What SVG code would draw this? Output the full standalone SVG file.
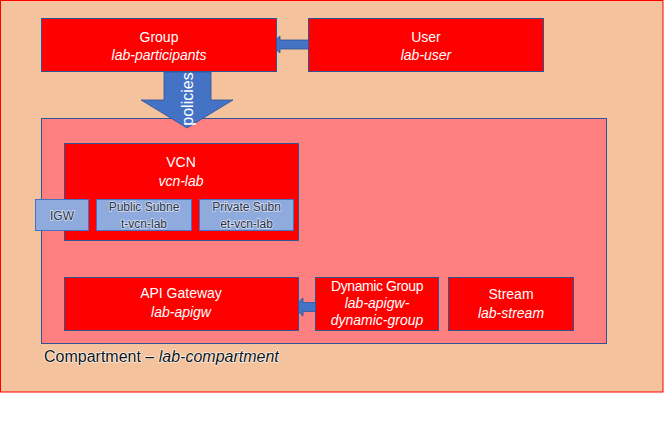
<svg xmlns="http://www.w3.org/2000/svg" width="664" height="426" viewBox="0 0 664 426">
<style>
.box{fill:#FF0000;stroke:#2F5597;stroke-width:1}
.sub{fill:#8FAADC;stroke:#4472C4;stroke-width:1}
.t{font-family:"Liberation Sans",Arial,sans-serif;font-size:14px;fill:#FFFFFF;text-anchor:middle}
.i{font-style:italic}
.s{font-family:"Liberation Sans",Arial,sans-serif;font-size:12px;fill:#26324A;text-anchor:middle;stroke:#D6DEF0;stroke-width:1.6;paint-order:stroke}
.arrow{fill:#4472C4;stroke:#2F5597;stroke-width:0.8}
</style>
<rect width="664" height="426" fill="#FFFFFF"/>
<rect x="0.5" y="0.5" width="662.5" height="391.5" fill="#F4C39E" stroke="#FF0000" stroke-width="1"/>
<g id="compartment">
<rect x="41.5" y="118.5" width="565" height="225" fill="#FF8080" stroke="#2F5597" stroke-width="1"/>
<text x="44" y="362" font-family="Liberation Sans,Arial,sans-serif" font-size="16" fill="#111111" stroke="#FFFFFF" stroke-width="1.2" paint-order="stroke">Compartment – <tspan font-style="italic">lab-compartment</tspan></text>
</g>
<g id="connectors">
<polygon class="arrow" points="164,72 211,72 211,100 233,100 187,128 141,100 164,100"/>
<text transform="translate(193,99) rotate(-90)" font-family="Liberation Sans,Arial,sans-serif" font-size="16" fill="#FFFFFF" text-anchor="middle">policies</text>
<polygon class="arrow" points="318,40 280,40 280,36 270,44.5 280,53 280,49 318,49"/>
<polygon class="arrow" points="321,302.5 303,302.5 303,298 293,307 303,316 303,311.5 321,311.5"/>
</g>
<g id="group">
<rect class="box" x="41.5" y="18.5" width="235" height="53"/>
<text class="t" x="159" y="42">Group</text>
<text class="t i" x="159" y="60">lab-participants</text>
</g>
<g id="user">
<rect class="box" x="308.5" y="18.5" width="235" height="53"/>
<text class="t" x="426" y="42">User</text>
<text class="t i" x="426" y="60">lab-user</text>
</g>
<g id="vcn">
<rect class="box" x="64.5" y="143.5" width="234" height="97"/>
<text class="t" x="181" y="167">VCN</text>
<text class="t i" x="181" y="186">vcn-lab</text>
</g>
<g id="igw">
<rect class="sub" x="35.5" y="199.5" width="53" height="31"/>
<text class="s" x="62" y="219.5">IGW</text>
</g>
<g id="public-subnet">
<rect class="sub" x="96.5" y="199.5" width="95" height="31"/>
<text class="s" x="144" y="211">Public Subne</text>
<text class="s" x="144" y="228">t-vcn-lab</text>
</g>
<g id="private-subnet">
<rect class="sub" x="199.5" y="199.5" width="94" height="31"/>
<text class="s" x="246.5" y="211">Private Subn</text>
<text class="s" x="246.5" y="228">et-vcn-lab</text>
</g>
<g id="api-gateway">
<rect class="box" x="64.5" y="277.5" width="234" height="53"/>
<text class="t" x="181" y="298">API Gateway</text>
<text class="t i" x="181" y="317">lab-apigw</text>
</g>
<g id="dynamic-group">
<rect class="box" x="315.5" y="277.5" width="123" height="53"/>
<text class="t" x="377" y="291" letter-spacing="-0.4">Dynamic Group</text>
<text class="t i" x="377" y="308">lab-apigw-</text>
<text class="t i" x="377" y="325">dynamic-group</text>
</g>
<g id="stream">
<rect class="box" x="448.5" y="277.5" width="125" height="53"/>
<text class="t" x="511" y="299">Stream</text>
<text class="t i" x="511" y="318">lab-stream</text>
</g>
</svg>
